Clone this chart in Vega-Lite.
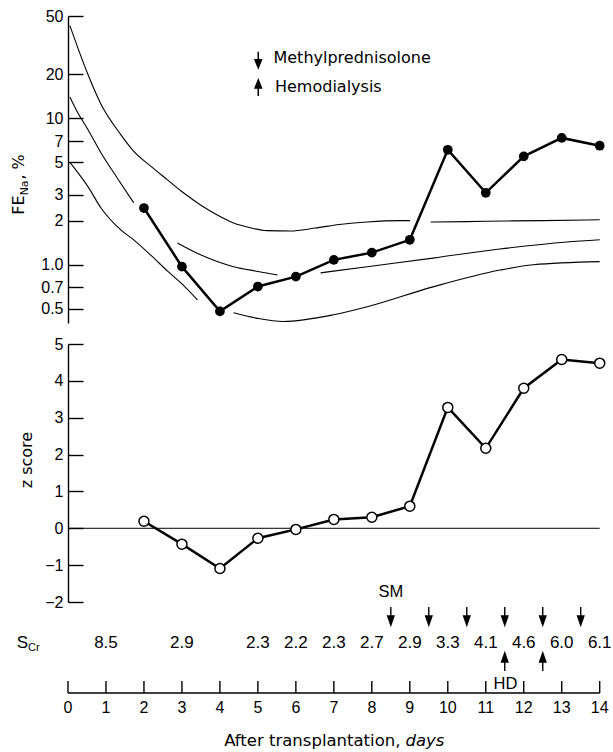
{
  "$schema": "https://vega.github.io/schema/vega-lite/v6.json",
  "padding": {"left": 10, "top": 8, "right": 0, "bottom": 0},
  "bounds": "flush",
  "spacing": 21,
  "background": "white",
  "config": {
    "view": {"stroke": null},
    "axis": {"grid": false, "domainColor": "black", "tickColor": "black", "labelColor": "black", "labelFont": "Liberation Sans", "labelFontSize": 16, "domainWidth": 1.4, "tickWidth": 1.4, "labelFlush": false, "labelOverlap": false}
  },
  "datasets": {
    "fena": [
      {"day": 2, "fe": 2.44}, {"day": 3, "fe": 0.97}, {"day": 4, "fe": 0.48}, {"day": 5, "fe": 0.71},
      {"day": 6, "fe": 0.83}, {"day": 7, "fe": 1.08}, {"day": 8, "fe": 1.21}, {"day": 9, "fe": 1.48},
      {"day": 10, "fe": 6.1}, {"day": 11, "fe": 3.1}, {"day": 12, "fe": 5.5}, {"day": 13, "fe": 7.35}, {"day": 14, "fe": 6.5}
    ],
    "curves": [
      {"seg": "u1", "day": 0.05, "fe": 43}, {"seg": "u1", "day": 0.51, "fe": 20.4}, {"seg": "u1", "day": 0.855, "fe": 12.7},
      {"seg": "u1", "day": 1.38, "fe": 7.8}, {"seg": "u1", "day": 1.72, "fe": 6.0}, {"seg": "u1", "day": 2.17, "fe": 4.73},
      {"seg": "u1", "day": 2.62, "fe": 3.8}, {"seg": "u1", "day": 3.04, "fe": 3.1}, {"seg": "u1", "day": 3.49, "fe": 2.56},
      {"seg": "u1", "day": 3.93, "fe": 2.19}, {"seg": "u1", "day": 4.36, "fe": 1.93}, {"seg": "u1", "day": 4.8, "fe": 1.79},
      {"seg": "u1", "day": 5.24, "fe": 1.71}, {"seg": "u1", "day": 5.86, "fe": 1.7}, {"seg": "u1", "day": 6.5, "fe": 1.78},
      {"seg": "u1", "day": 7.2, "fe": 1.89}, {"seg": "u1", "day": 7.88, "fe": 1.96}, {"seg": "u1", "day": 8.75, "fe": 2.0},
      {"seg": "u1", "day": 9.01, "fe": 2.0},
      {"seg": "u2", "day": 9.55, "fe": 1.96}, {"seg": "u2", "day": 10.5, "fe": 1.97}, {"seg": "u2", "day": 11.5, "fe": 1.99},
      {"seg": "u2", "day": 12.5, "fe": 2.0}, {"seg": "u2", "day": 14, "fe": 2.03},
      {"seg": "m1", "day": 0.05, "fe": 14}, {"seg": "m1", "day": 0.25, "fe": 11}, {"seg": "m1", "day": 0.5, "fe": 8.6},
      {"seg": "m1", "day": 0.87, "fe": 5.8}, {"seg": "m1", "day": 1.3, "fe": 3.9}, {"seg": "m1", "day": 1.73, "fe": 2.65},
      {"seg": "m2", "day": 2.88, "fe": 1.41}, {"seg": "m2", "day": 3.49, "fe": 1.17}, {"seg": "m2", "day": 4.36, "fe": 0.97},
      {"seg": "m2", "day": 5.0, "fe": 0.9}, {"seg": "m2", "day": 5.52, "fe": 0.85},
      {"seg": "m3", "day": 6.65, "fe": 0.88}, {"seg": "m3", "day": 7.88, "fe": 0.97}, {"seg": "m3", "day": 9.61, "fe": 1.11},
      {"seg": "m3", "day": 11.37, "fe": 1.28}, {"seg": "m3", "day": 13.13, "fe": 1.43}, {"seg": "m3", "day": 14, "fe": 1.48},
      {"seg": "l1", "day": 0.05, "fe": 5.0}, {"seg": "l1", "day": 0.53, "fe": 3.4}, {"seg": "l1", "day": 0.87, "fe": 2.44},
      {"seg": "l1", "day": 1.39, "fe": 1.73}, {"seg": "l1", "day": 1.73, "fe": 1.48}, {"seg": "l1", "day": 2.2, "fe": 1.15},
      {"seg": "l1", "day": 2.63, "fe": 0.9}, {"seg": "l1", "day": 3.0, "fe": 0.74}, {"seg": "l1", "day": 3.41, "fe": 0.575},
      {"seg": "l2", "day": 4.36, "fe": 0.47}, {"seg": "l2", "day": 5.0, "fe": 0.43}, {"seg": "l2", "day": 5.67, "fe": 0.41},
      {"seg": "l2", "day": 6.99, "fe": 0.455}, {"seg": "l2", "day": 7.88, "fe": 0.516}, {"seg": "l2", "day": 9.61, "fe": 0.706},
      {"seg": "l2", "day": 11.38, "fe": 0.92}, {"seg": "l2", "day": 12.25, "fe": 1.0}, {"seg": "l2", "day": 14, "fe": 1.05}
    ],
    "zscore": [
      {"day": 2, "z": 0.19}, {"day": 3, "z": -0.43}, {"day": 4, "z": -1.09}, {"day": 5, "z": -0.27},
      {"day": 6, "z": -0.03}, {"day": 7, "z": 0.24}, {"day": 8, "z": 0.3}, {"day": 9, "z": 0.6},
      {"day": 10, "z": 3.28}, {"day": 11, "z": 2.17}, {"day": 12, "z": 3.8}, {"day": 13, "z": 4.58}, {"day": 14, "z": 4.48}
    ],
    "scr": [
      {"day": 1, "scr": 8.5}, {"day": 3, "scr": 2.9}, {"day": 5, "scr": 2.3}, {"day": 6, "scr": 2.2},
      {"day": 7, "scr": 2.3}, {"day": 8, "scr": 2.7}, {"day": 9, "scr": 2.9}, {"day": 10, "scr": 3.3},
      {"day": 11, "scr": 4.1}, {"day": 12, "scr": 4.6}, {"day": 13, "scr": 6.0}, {"day": 14, "scr": 6.1}
    ],
    "methylprednisolone": [
      {"day": 8.5}, {"day": 9.5}, {"day": 10.5}, {"day": 11.5}, {"day": 12.5}, {"day": 13.5}
    ],
    "hemodialysis": [
      {"day": 11.5}, {"day": 12.5}
    ],
    "days": [
      {"day": 0}, {"day": 1}, {"day": 2}, {"day": 3}, {"day": 4}, {"day": 5}, {"day": 6}, {"day": 7},
      {"day": 8}, {"day": 9}, {"day": 10}, {"day": 11}, {"day": 12}, {"day": 13}, {"day": 14}
    ]
  },
  "vconcat": [
    {
      "width": 545,
      "height": 307,
      "layer": [
        {
          "data": {"name": "curves"},
          "mark": {"type": "line", "interpolate": "monotone", "color": "black", "strokeWidth": 1.1},
          "encoding": {
            "x": {"field": "day", "type": "quantitative", "scale": {"domain": [0, 14.35], "nice": false, "zero": false}, "axis": null},
            "y": {"field": "fe", "type": "quantitative", "scale": {"type": "log", "domain": [0.4, 50], "nice": false},
                  "axis": {"values": [0.5, 0.7, 1, 2, 3, 5, 7, 10, 20, 50], "labelExpr": "datum.value == 1 ? '1.0' : toString(datum.value)", "tickSize": -15, "labelPadding": 20, "title": null}},
            "detail": {"field": "seg"}
          }
        },
        {
          "data": {"name": "fena"},
          "mark": {"type": "line", "color": "black", "strokeWidth": 2.5},
          "encoding": {
            "x": {"field": "day", "type": "quantitative"},
            "y": {"field": "fe", "type": "quantitative"}
          }
        },
        {
          "data": {"name": "fena"},
          "mark": {"type": "circle", "color": "black", "size": 95, "opacity": 1},
          "encoding": {
            "x": {"field": "day", "type": "quantitative"},
            "y": {"field": "fe", "type": "quantitative"}
          }
        },
        {
          "data": {"values": [{"label": "Methylprednisolone"}]},
          "mark": {"type": "point", "shape": "M0,-1L0,0.1M-0.4,0L0.4,0L0,1Z", "filled": true, "color": "black", "stroke": "black", "strokeWidth": 1.5, "size": 256, "opacity": 1},
          "encoding": {
            "x": {"datum": 5.01, "type": "quantitative"},
            "y": {"datum": 25.1, "type": "quantitative"}
          }
        },
        {
          "data": {"values": [{"label": "Hemodialysis"}]},
          "mark": {"type": "point", "shape": "M0,1L0,-0.1M-0.4,0L0.4,0L0,-1Z", "filled": true, "color": "black", "stroke": "black", "strokeWidth": 1.5, "size": 256, "opacity": 1},
          "encoding": {
            "x": {"datum": 5.01, "type": "quantitative"},
            "y": {"datum": 16.1, "type": "quantitative"}
          }
        },
        {
          "data": {"values": [{"label": "Methylprednisolone"}]},
          "mark": {"type": "text", "align": "left", "baseline": "middle", "font": "DejaVu Sans", "fontSize": 16, "color": "black"},
          "encoding": {
            "x": {"datum": 5.41, "type": "quantitative"},
            "y": {"datum": 25.8, "type": "quantitative"},
            "text": {"field": "label"}
          }
        },
        {
          "data": {"values": [{"label": "Hemodialysis"}]},
          "mark": {"type": "text", "align": "left", "baseline": "middle", "font": "DejaVu Sans", "fontSize": 16, "color": "black"},
          "encoding": {
            "x": {"datum": 5.45, "type": "quantitative"},
            "y": {"datum": 16.4, "type": "quantitative"},
            "text": {"field": "label"}
          }
        },
        {
          "data": {"values": [{"label": "FE"}]},
          "mark": {"type": "text", "angle": 270, "align": "center", "baseline": "middle", "font": "DejaVu Sans", "fontSize": 16, "color": "black"},
          "encoding": {
            "x": {"datum": -1.3, "type": "quantitative"},
            "y": {"datum": 2.56, "type": "quantitative"},
            "text": {"field": "label"}
          }
        },
        {
          "data": {"values": [{"label": "Na"}]},
          "mark": {"type": "text", "angle": 270, "align": "center", "baseline": "middle", "font": "DejaVu Sans", "fontSize": 11, "color": "black"},
          "encoding": {
            "x": {"datum": -1.14, "type": "quantitative"},
            "y": {"datum": 3.35, "type": "quantitative"},
            "text": {"field": "label"}
          }
        },
        {
          "data": {"values": [{"label": ", %"}]},
          "mark": {"type": "text", "angle": 270, "align": "center", "baseline": "middle", "font": "DejaVu Sans", "fontSize": 16, "color": "black"},
          "encoding": {
            "x": {"datum": -1.3, "type": "quantitative"},
            "y": {"datum": 4.66, "type": "quantitative"},
            "text": {"field": "label"}
          }
        }
      ]
    },
    {
      "width": 545,
      "height": 258,
      "layer": [
        {
          "data": {"values": [{"ref": 0}]},
          "mark": {"type": "rule", "color": "black", "strokeWidth": 1},
          "encoding": {
            "x": {"datum": 0, "type": "quantitative", "scale": {"domain": [0, 14.35], "nice": false, "zero": false}, "axis": null},
            "x2": {"datum": 14},
            "y": {"field": "ref", "type": "quantitative", "scale": {"domain": [-2, 5], "nice": false},
                  "axis": {"values": [-2, -1, 0, 1, 2, 3, 4, 5], "tickCount": 8, "tickSize": -15, "labelPadding": 20, "title": null}}
          }
        },
        {
          "data": {"name": "zscore"},
          "mark": {"type": "line", "color": "black", "strokeWidth": 2.5},
          "encoding": {
            "x": {"field": "day", "type": "quantitative", "axis": null},
            "y": {"field": "z", "type": "quantitative", "axis": {"values": [-2, -1, 0, 1, 2, 3, 4, 5], "tickCount": 8, "tickSize": -15, "labelPadding": 20, "title": null}}
          }
        },
        {
          "data": {"name": "zscore"},
          "mark": {"type": "circle", "fill": "white", "stroke": "black", "strokeWidth": 1.5, "size": 100, "opacity": 1},
          "encoding": {
            "x": {"field": "day", "type": "quantitative", "axis": null},
            "y": {"field": "z", "type": "quantitative", "axis": {"values": [-2, -1, 0, 1, 2, 3, 4, 5], "tickCount": 8, "tickSize": -15, "labelPadding": 20, "title": null}}
          }
        },
        {
          "data": {"values": [{"label": "z score"}]},
          "mark": {"type": "text", "angle": 270, "align": "center", "baseline": "middle", "font": "DejaVu Sans", "fontSize": 16, "color": "black"},
          "encoding": {
            "x": {"datum": -1.09, "type": "quantitative", "axis": null},
            "y": {"datum": 1.85, "type": "quantitative", "axis": {"values": [-2, -1, 0, 1, 2, 3, 4, 5], "tickCount": 8, "tickSize": -15, "labelPadding": 20, "title": null}},
            "text": {"field": "label"}
          }
        }
      ]
    },
    {
      "width": 545,
      "height": 70,
      "layer": [
        {
          "data": {"name": "scr"},
          "mark": {"type": "text", "align": "center", "baseline": "middle", "font": "Liberation Sans", "fontSize": 17, "color": "black"},
          "encoding": {
            "x": {"field": "day", "type": "quantitative", "scale": {"domain": [0, 14.35], "nice": false, "zero": false}, "axis": null},
            "y": {"datum": 50, "type": "quantitative", "scale": {"domain": [0, 70], "nice": false}, "axis": null},
            "text": {"field": "scr", "type": "quantitative", "format": ".1f"}
          }
        },
        {
          "data": {"values": [{"ref": 0}]},
          "mark": {"type": "rule", "color": "black", "strokeWidth": 1.4},
          "encoding": {
            "x": {"datum": 0, "type": "quantitative", "axis": null},
            "x2": {"datum": 14},
            "y": {"field": "ref", "type": "quantitative", "axis": null}
          }
        },
        {
          "data": {"name": "days"},
          "mark": {"type": "rule", "color": "black", "strokeWidth": 1.4},
          "encoding": {
            "x": {"field": "day", "type": "quantitative", "axis": null},
            "y": {"datum": 0, "type": "quantitative", "axis": null},
            "y2": {"datum": 12}
          }
        },
        {
          "data": {"name": "days"},
          "mark": {"type": "text", "align": "center", "baseline": "middle", "font": "Liberation Sans", "fontSize": 16, "color": "black"},
          "encoding": {
            "x": {"field": "day", "type": "quantitative", "axis": null},
            "y": {"datum": -15, "type": "quantitative", "axis": null},
            "text": {"field": "day", "type": "quantitative"}
          }
        },
        {
          "data": {"name": "methylprednisolone"},
          "mark": {"type": "point", "shape": "M0,-1L0,0.1M-0.35,0L0.35,0L0,1Z", "filled": true, "color": "black", "stroke": "black", "strokeWidth": 1.4, "size": 330, "opacity": 1},
          "encoding": {
            "x": {"field": "day", "type": "quantitative", "axis": null},
            "y": {"datum": 77, "type": "quantitative", "axis": null}
          }
        },
        {
          "data": {"name": "hemodialysis"},
          "mark": {"type": "point", "shape": "M0,1L0,-0.1M-0.35,0L0.35,0L0,-1Z", "filled": true, "color": "black", "stroke": "black", "strokeWidth": 1.4, "size": 330, "opacity": 1},
          "encoding": {
            "x": {"field": "day", "type": "quantitative", "axis": null},
            "y": {"datum": 31, "type": "quantitative", "axis": null}
          }
        },
        {
          "data": {"values": [{"label": "SM"}]},
          "mark": {"type": "text", "align": "center", "baseline": "middle", "font": "Liberation Sans", "fontSize": 16.5, "color": "black"},
          "encoding": {
            "x": {"datum": 8.5, "type": "quantitative", "axis": null},
            "y": {"datum": 101, "type": "quantitative", "axis": null},
            "text": {"field": "label"}
          }
        },
        {
          "data": {"values": [{"label": "HD"}]},
          "mark": {"type": "text", "align": "center", "baseline": "middle", "font": "Liberation Sans", "fontSize": 16.5, "color": "black"},
          "encoding": {
            "x": {"datum": 11.52, "type": "quantitative", "axis": null},
            "y": {"datum": 9, "type": "quantitative", "axis": null},
            "text": {"field": "label"}
          }
        },
        {
          "data": {"values": [{"label": "S"}]},
          "mark": {"type": "text", "align": "center", "baseline": "middle", "font": "Liberation Sans", "fontSize": 17, "color": "black"},
          "encoding": {
            "x": {"datum": -1.2, "type": "quantitative", "axis": null},
            "y": {"datum": 50, "type": "quantitative", "axis": null},
            "text": {"field": "label"}
          }
        },
        {
          "data": {"values": [{"label": "Cr"}]},
          "mark": {"type": "text", "align": "left", "baseline": "middle", "font": "Liberation Sans", "fontSize": 11, "color": "black"},
          "encoding": {
            "x": {"datum": -1.05, "type": "quantitative", "axis": null},
            "y": {"datum": 45, "type": "quantitative", "axis": null},
            "text": {"field": "label"}
          }
        },
        {
          "data": {"values": [{"label": "After transplantation,"}]},
          "mark": {"type": "text", "align": "right", "baseline": "middle", "font": "DejaVu Sans", "fontSize": 16.5, "color": "black", "dx": -2.5},
          "encoding": {
            "x": {"datum": 8.82, "type": "quantitative", "axis": null},
            "y": {"datum": -48, "type": "quantitative", "axis": null},
            "text": {"field": "label"}
          }
        },
        {
          "data": {"values": [{"label": "days"}]},
          "mark": {"type": "text", "align": "left", "baseline": "middle", "font": "DejaVu Sans", "fontSize": 16.5, "fontStyle": "italic", "color": "black", "dx": 2.5},
          "encoding": {
            "x": {"datum": 8.82, "type": "quantitative", "axis": null},
            "y": {"datum": -48, "type": "quantitative", "axis": null},
            "text": {"field": "label"}
          }
        }
      ]
    }
  ]
}
